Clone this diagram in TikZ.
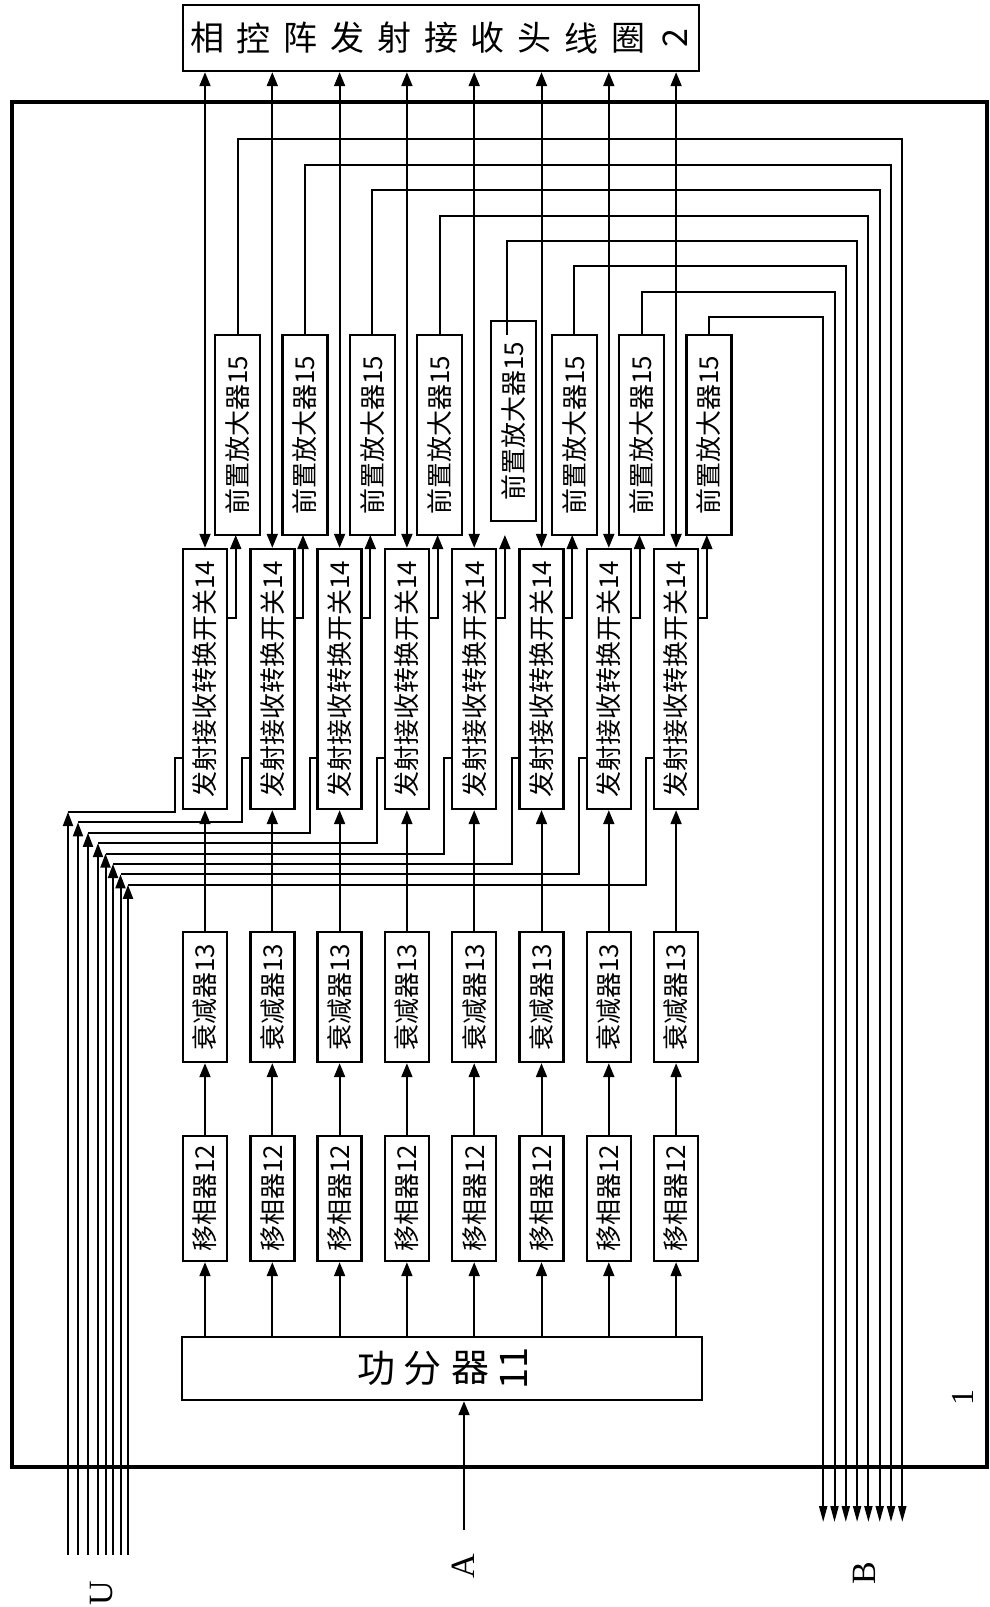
\documentclass[tikz,border=0pt]{standalone}
\usepackage{fontspec}
\setmainfont{Liberation Serif}
\newfontfamily\cjk{Noto Sans CJK SC}
\usetikzlibrary{arrows.meta,calc}
\begin{document}
\begin{tikzpicture}[x=0.5pt,y=-0.5pt,
  box/.style={draw, line width=1.2pt, inner sep=0pt, minimum width=22pt, font={\cjk\fontsize{13}{13}\selectfont}},
  pbox/.style={box, minimum width=22.5pt, minimum height=100pt},
  ln/.style={line width=1pt},
  arr/.style={ln, -{Triangle[length=7pt,width=5.5pt]}},
  biarr/.style={ln, {Triangle[length=7pt,width=5.5pt]}-{Triangle[length=7pt,width=5.5pt]}},
  uarr/.style={ln, -{Triangle[length=7pt,width=5pt]}},
  barr/.style={ln, -{Triangle[length=8pt,width=4pt]}},
  ttl/.style={font={\cjk\fontsize{17}{17}\selectfont}, inner sep=0pt},
  pdt/.style={font={\cjk\fontsize{19}{19}\selectfont}, inner sep=0pt},
  lbl/.style={font={\fontsize{17}{17}\selectfont}, inner sep=0pt}
]
\useasboundingbox (0,0) rectangle (990,1607);

% outer frame 1
\draw[line width=1.8pt] (12,101.7) rectangle (987,1467);

% title box
\node[draw, line width=1.2pt, minimum width=258pt, minimum height=33pt, inner sep=0pt] (title) at (441,38) {};
\foreach \ch [count=\k from 0] in {相,控,阵,发,射,接,收,头,线,圈} {
  \node[ttl] (t\k) at (207+46.8*\k,38) {\ch};
}
\node[ttl] (t10) at (675,38) {\rotatebox{90}{2}};

% power divider
\node[draw, line width=1.2pt, minimum width=260pt, minimum height=31.5pt, inner sep=0pt] (pd) at (442,1368.5) {};
\node[pdt] (pd1) at (376,1368) {功};
\node[pdt] (pd2) at (422,1368) {分};
\node[pdt] (pd3) at (470,1368) {器};
\node[pdt] (pd4) at (514,1368) {\rotatebox{90}{11}};

% channel boxes
\foreach \i in {0,...,7} {
  \pgfmathsetmacro{\cx}{205+67.3*\i}
  \node[box, minimum height=62.5pt] (ps\i) at (\cx,1198.5) {\rotatebox{90}{移相器12}};
  \node[box, minimum height=65pt] (at\i) at (\cx,997) {\rotatebox{90}{衰减器13}};
  \node[box, minimum height=130pt] (sw\i) at (\cx,679) {\rotatebox{90}{发射接收转换开关14}};
  \ifnum\i=4
    \node[pbox] (pa\i) at (513.5,421) {\rotatebox{90}{前置放大器15}};
  \else
    \node[pbox] (pa\i) at (\cx+32.7,435) {\rotatebox{90}{前置放大器15}};
  \fi
}

% connectors per channel
\foreach \i/\ux in {0/68,1/78,2/88,3/98,4/105.5,5/113,6/120.5,7/128} {
  \pgfmathsetmacro{\cx}{205+67.3*\i}
  \pgfmathsetmacro{\px}{237.7+67.3*\i}
  \draw[arr] (pd.north -| ps\i) -- (ps\i.south);
  \draw[arr] (ps\i.north) -- (at\i.south);
  \draw[arr] (at\i.north) -- (sw\i.south);
  \draw[biarr] (sw\i.north) -- (sw\i.north |- title.south);
  % switch -> preamp
  \coordinate (so\i) at (\cx+22,618);
  \coordinate (pi\i) at (\cx+30.7,535);
  \draw[arr] (so\i) -| (pi\i);
  % control lines U
  \coordinate (cl\i) at (\cx-30,758);
  \coordinate (uc\i) at (\ux,812+10.4*\i);
  \coordinate (ub\i) at (\ux,1555);
  \draw[ln] (sw\i.west |- cl\i) -- (cl\i) |- (uc\i);
  \draw[uarr] (ub\i) -- (uc\i);
  % preamp outputs to B
  \coordinate (po\i) at (\px,335);
  \coordinate (bh\i) at (902.3-11.3*\i,139.3+25.4*\i);
  \coordinate (bb\i) at (902.3-11.3*\i,1522);
  \draw[barr] (po\i) |- (bh\i) -- (bb\i);
}

% input A
\coordinate (a0) at (464,1530);
\draw[arr] (a0) -- (a0 |- pd.south);

% labels
\node[lbl] (lA) at (463,1566) {\rotatebox{90}{A}};
\node[lbl] (lB) at (864,1573) {\rotatebox{90}{B}};
\node[lbl] (lU) at (102,1593) {\rotatebox{90}{U}};
\node[font={\fontsize{16}{16}\selectfont}, inner sep=0pt] (l1) at (963,1397) {\rotatebox{90}{1}};
\end{tikzpicture}
\end{document}
